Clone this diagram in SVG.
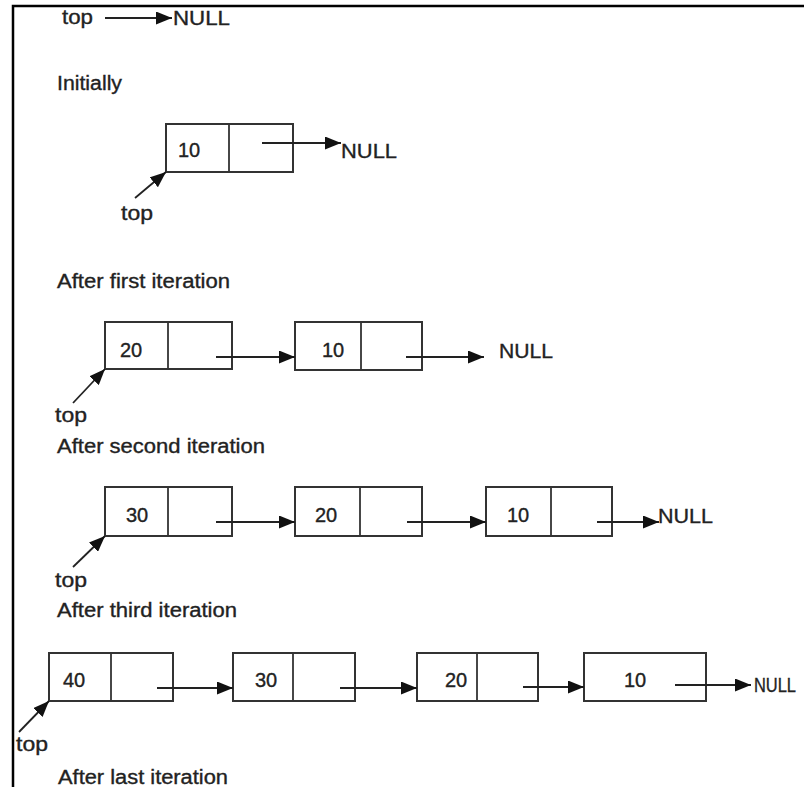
<svg xmlns="http://www.w3.org/2000/svg" width="804" height="787" viewBox="0 0 804 787">
<style>
text{font-family:"Liberation Sans",Arial,sans-serif;font-size:20px;fill:#222;stroke:#222;stroke-width:0.35}
.box{fill:#fff;stroke:#333;stroke-width:2}
.div{stroke:#333;stroke-width:1.8}
.con{stroke:#222;stroke-width:1.8;fill:none;marker-end:url(#ah)}
.frame{stroke:#000;stroke-width:2.5;fill:none}
</style>
<defs>
<marker id="ah" viewBox="0 0 16 13" refX="16" refY="6.5" markerWidth="16" markerHeight="13" markerUnits="userSpaceOnUse" orient="auto">
<path d="M0,0 L16,6.5 L0,13 z" fill="#111"/>
</marker>
</defs>
<rect width="804" height="787" fill="#fff"/>
<path class="frame" d="M13,787 L13,6 L804,6"/>

<g id="labels">
<text x="62" y="24" textLength="31" lengthAdjust="spacingAndGlyphs">top</text>
<text x="173" y="25" textLength="57" lengthAdjust="spacingAndGlyphs">NULL</text>
<text x="57" y="90" textLength="65" lengthAdjust="spacingAndGlyphs">Initially</text>
<text x="341" y="158" textLength="56" lengthAdjust="spacingAndGlyphs">NULL</text>
<text x="121" y="220" textLength="32" lengthAdjust="spacingAndGlyphs">top</text>
<text x="57" y="288" textLength="173" lengthAdjust="spacingAndGlyphs">After first iteration</text>
<text x="499" y="358" textLength="54" lengthAdjust="spacingAndGlyphs">NULL</text>
<text x="55" y="422" textLength="32" lengthAdjust="spacingAndGlyphs">top</text>
<text x="57" y="453" textLength="208" lengthAdjust="spacingAndGlyphs">After second iteration</text>
<text x="658" y="523" textLength="55" lengthAdjust="spacingAndGlyphs">NULL</text>
<text x="55" y="587" textLength="32" lengthAdjust="spacingAndGlyphs">top</text>
<text x="57" y="617" textLength="180" lengthAdjust="spacingAndGlyphs">After third iteration</text>
<text x="754" y="692" font-size="18" textLength="42" lengthAdjust="spacingAndGlyphs">NULL</text>
<text x="16" y="751" textLength="32" lengthAdjust="spacingAndGlyphs">top</text>
<text x="58" y="784" textLength="170" lengthAdjust="spacingAndGlyphs">After last iteration</text>
</g>

<g id="r1n1"><rect class="box" x="166" y="124" width="127" height="48"/><line class="div" x1="229" y1="124" x2="229" y2="172"/><text x="178" y="157">10</text></g>

<g id="r2n1"><rect class="box" x="105" y="322" width="127" height="47"/><line class="div" x1="168" y1="322" x2="168" y2="369"/><text x="120" y="357">20</text></g>
<g id="r2n2"><rect class="box" x="295" y="322" width="127" height="48"/><line class="div" x1="361" y1="322" x2="361" y2="370"/><text x="322" y="357">10</text></g>

<g id="r3n1"><rect class="box" x="105" y="487" width="127" height="49"/><line class="div" x1="168" y1="487" x2="168" y2="536"/><text x="126" y="522">30</text></g>
<g id="r3n2"><rect class="box" x="295" y="487" width="127" height="49"/><line class="div" x1="360" y1="487" x2="360" y2="536"/><text x="315" y="522">20</text></g>
<g id="r3n3"><rect class="box" x="486" y="487" width="126" height="49"/><line class="div" x1="551" y1="487" x2="551" y2="536"/><text x="507" y="522">10</text></g>

<g id="r4n1"><rect class="box" x="49" y="653" width="124" height="48"/><line class="div" x1="111" y1="653" x2="111" y2="701"/><text x="63" y="687">40</text></g>
<g id="r4n2"><rect class="box" x="233" y="653" width="122" height="48"/><line class="div" x1="293" y1="653" x2="293" y2="701"/><text x="255" y="687">30</text></g>
<g id="r4n3"><rect class="box" x="417" y="653" width="121" height="48"/><line class="div" x1="477" y1="653" x2="477" y2="701"/><text x="445" y="687">20</text></g>
<g id="r4n4"><rect class="box" x="584" y="653" width="122" height="48"/><text x="624" y="687">10</text></g>

<g id="connectors">
<line class="con" x1="105" y1="18" x2="172" y2="18"/>
<line class="con" x1="262" y1="143" x2="341" y2="143"/>
<line class="con" x1="135" y1="198" x2="166" y2="172"/>
<line class="con" x1="216" y1="357" x2="295" y2="357"/>
<line class="con" x1="406" y1="357" x2="484" y2="357"/>
<line class="con" x1="73" y1="403" x2="105" y2="369"/>
<line class="con" x1="216" y1="522" x2="295" y2="522"/>
<line class="con" x1="407" y1="522" x2="486" y2="522"/>
<line class="con" x1="597" y1="522" x2="659" y2="522"/>
<line class="con" x1="73" y1="567" x2="105" y2="536"/>
<line class="con" x1="157" y1="688" x2="233" y2="688"/>
<line class="con" x1="340" y1="688" x2="417" y2="688"/>
<line class="con" x1="523" y1="687" x2="584" y2="687"/>
<line class="con" x1="675" y1="685" x2="751" y2="685"/>
<line class="con" x1="19" y1="732" x2="49" y2="701"/>
</g>
</svg>
